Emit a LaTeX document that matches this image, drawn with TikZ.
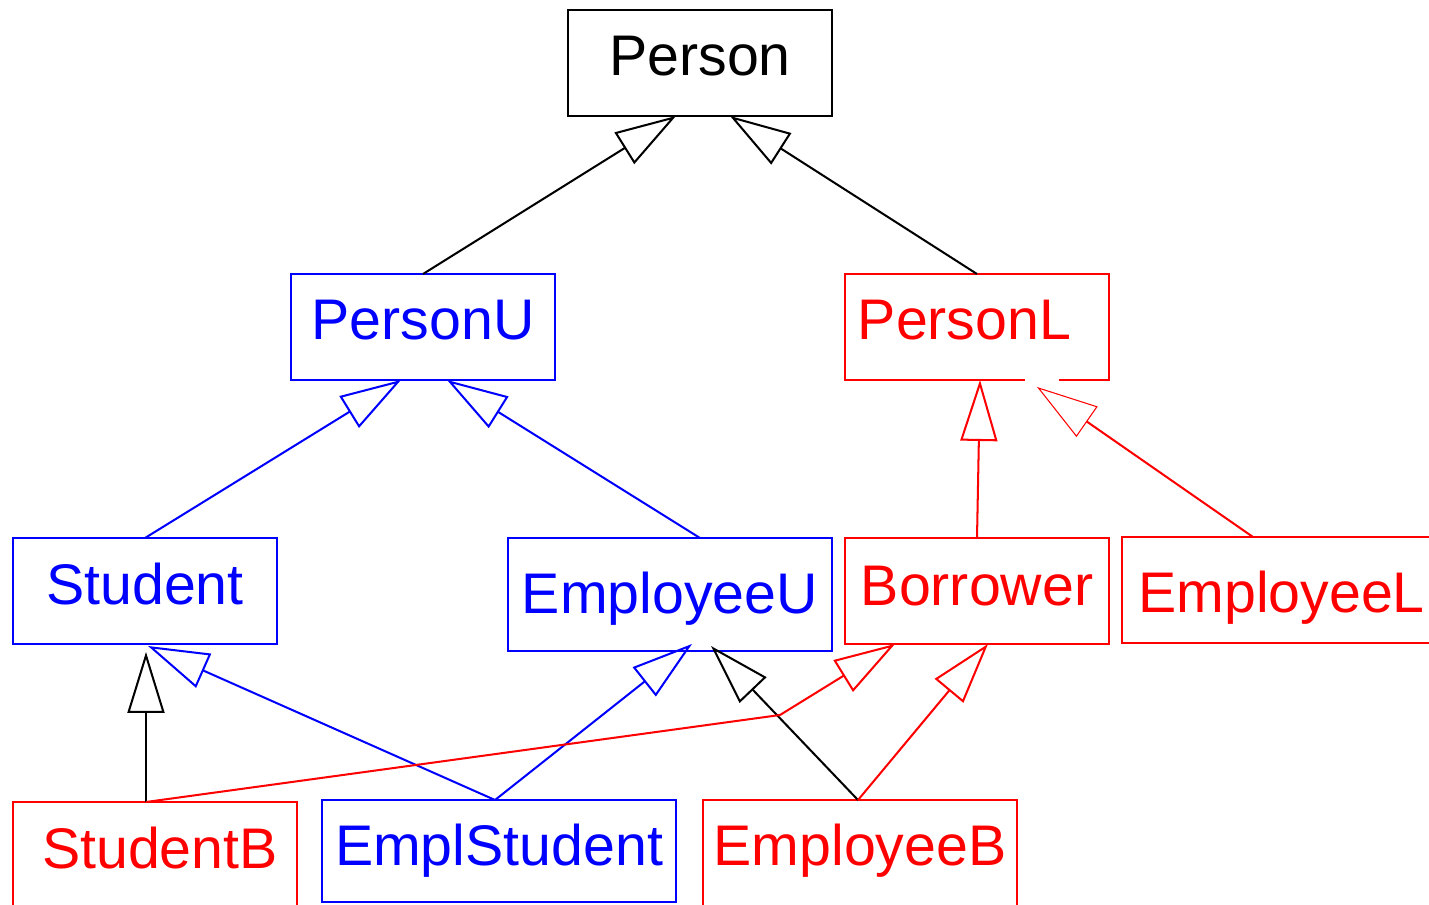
\documentclass[tikz,border=0pt]{standalone}
\usepackage{fontspec}
\setmainfont{Liberation Sans}
\usetikzlibrary{arrows.meta,calc}
\tikzset{
  umlbox/.style={draw, line width=1.15pt, inner sep=0pt, outer sep=0pt,
    minimum width=5.28cm, text height=1.32cm, text depth=0.8cm,
    font=\fontsize{32.6}{38}\selectfont},
  gen/.style={line width=1.15pt, -{Triangle[open,length=1.22cm,width=0.74cm]}},
  thingen/.style={line width=1.15pt, -{Triangle[open,length=1.22cm,width=0.74cm,line width=0.6pt]}},
}
\begin{document}
\begin{tikzpicture}[x=0.02cm,y=-0.02cm]
            \useasboundingbox (0,0) rectangle (1429,905);
            \clip (0,0) rectangle (1429,905);

            %Nodes
            \node[umlbox]     at (700,63)    (Person)      {Person};
            \node[umlbox,blue] at (423,327)  (PersonU)     {PersonU};
            \node[umlbox,red] at (977,327)   (PersonL)     {PersonL\kern0.5cm};
            \node[umlbox,blue] at (145,591)  (Student)     {Student};
            \node[umlbox,blue,minimum width=6.48cm,text height=1.5cm,text depth=0.76cm]
                              at (670,594.5) (EmployeeU)   {EmployeeU};
            \node[umlbox,red,text height=1.34cm,text depth=0.78cm]
                              at (977,591)   (Borrower)    {Borrower};
            \node[umlbox,red,minimum width=6.38cm,text height=1.5cm,text depth=0.62cm]
                              at (1281.5,590) (EmployeeL)  {EmployeeL};
            \node[umlbox,red,minimum width=5.68cm]
                              at (155,855)   (StudentB)    {\kern0.2cm StudentB};
            \node[umlbox,blue,minimum width=7.08cm,text height=1.3cm,text depth=0.74cm]
                              at (499,851)   (EmplStudent) {EmplStudent};
            \node[umlbox,red,minimum width=6.28cm,text height=1.3cm,text depth=0.82cm]
                              at (860,853)   (EmployeeB)   {EmployeeB};
            \coordinate (bend) at (780,715);

            %Lines
            \draw[white,line width=2pt] ($(PersonL.south)+(48,0)$) -- ($(PersonL.south)+(82,0)$);
            \draw[gen]      (PersonU.north) -- ($(Person.south)+(-24,0)$);
            \draw[gen]      (PersonL.north) -- ($(Person.south)+(30,0)$);
            \draw[gen,blue] (Student.north) -- ($(PersonU.south)+(-22,0)$);
            \draw[gen,blue] ($(EmployeeU.north)+(30,0)$) -- ($(PersonU.south)+(24,0)$);
            \draw[gen,red]  (Borrower.north) -- ($(PersonL.south)+(3,0)$);
            \draw[thingen,red] ($(EmployeeL.north)+(-28.5,0)$) -- ($(PersonL.south)+(60,7)$);
            \draw[gen]      ($(StudentB.north)+(-9,0)$) -- ($(Student.south)+(1,8)$);
            \draw[gen,blue] ($(EmplStudent.north)+(-4,0)$) -- ($(Student.south)+(3,2)$);
            \draw[gen,blue] ($(EmplStudent.north)+(-4,0)$) -- ($(EmployeeU.south)+(22,-7)$);
            \draw[gen]      ($(EmployeeB.north)+(-2,0)$) -- ($(EmployeeU.south)+(41,-5)$);
            \draw[gen,red]  ($(StudentB.north)+(-9,0)$) -- (bend) -- ($(Borrower.south)+(-82,0)$);
            \draw[gen,red]  ($(EmployeeB.north)+(-2,0)$) -- ($(Borrower.south)+(11,0)$);
        \end{tikzpicture}
\end{document}
